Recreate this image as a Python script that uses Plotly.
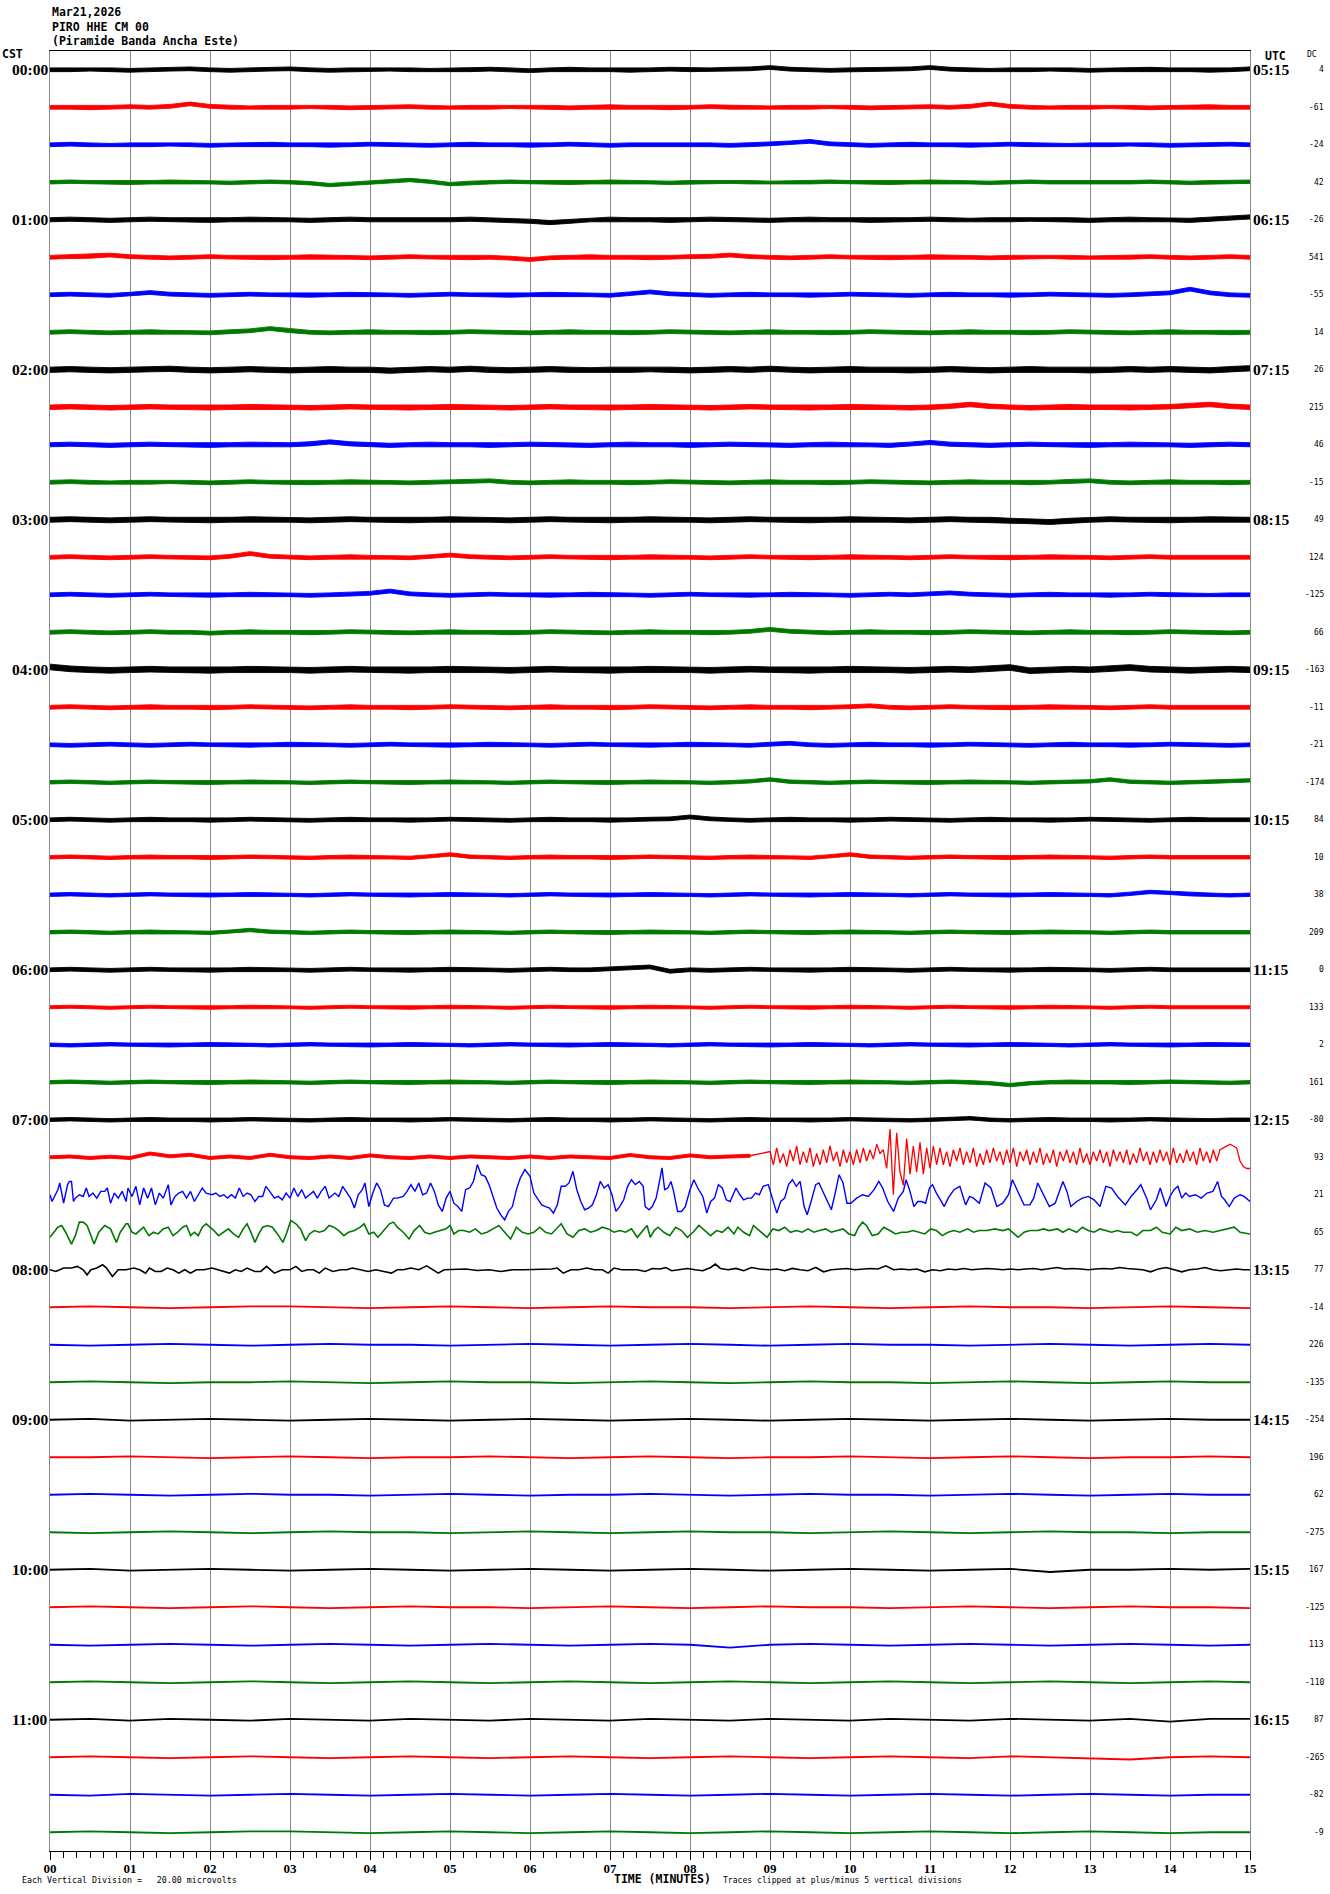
import numpy as np
import plotly.graph_objects as go

# ---------------- text / labels ----------------
HEADER = ["Mar21,2026", "PIRO HHE CM 00", "(Piramide Banda Ancha Este)"]
CST_LABELS = ["00:00", "01:00", "02:00", "03:00", "04:00", "05:00",
              "06:00", "07:00", "08:00", "09:00", "10:00", "11:00"]
UTC_LABELS = ["05:15", "06:15", "07:15", "08:15", "09:15", "10:15",
              "11:15", "12:15", "13:15", "14:15", "15:15", "16:15"]
DC_VALUES = [4, -61, -24, 42, -26, 541, -55, 14, 26, 215, 46, -15, 49, 124, -125, 66,
             -163, -11, -21, -174, 84, 10, 38, 209, 0, 133, 2, 161, -80, 93, 21, 65,
             77, -14, 226, -135, -254, 196, 62, -275, 167, -125, 113, -110, 87, -265, -82, -9]
MINUTE_TICKS = ["00", "01", "02", "03", "04", "05", "06", "07", "08", "09",
                "10", "11", "12", "13", "14", "15"]
UV_PER_DIV = 20.0
TRACE_COLORS = ["#000000", "#ff0000", "#0000ff", "#007800"]

# ---------------- trace values (microvolts) ----------------
# traces 00:00 .. 07:00 (index 0..28): running mid-level every 15 s ...
QUIET_TOP = [
    [0,0,0.3,0,-0.3,0,0.3,0.5,0,-0.3,0,0.3,0.5,0,-0.3,0,0,0.3,0,-0.3,0,0,0.3,0,-0.5,0,0.3,0,0,-0.3,0,0.3,0,0,0.3,0.5,1.2,0.3,0,-0.3,0,0,0.3,0.5,1.2,0.3,0,-0.3,0,0,0.3,0,-0.3,0,0,0.3,0,0,-0.3,0,0.5],
    [0,0,-0.3,0,0.3,0,0.5,1.8,0.5,0,-0.3,0,0,0.3,0,-0.3,0,0,0.3,0,-0.3,0,0,0.3,0,0,-0.3,0,0.3,0,0,-0.3,0,0.3,0,0,-0.3,0,0,0.3,0,-0.3,0,0,0.3,0,0.5,1.8,0.5,0,-0.3,0,0,0.3,0,-0.3,0,0,0.3,0,0],
    [0,0.3,0,-0.3,0,0,0.3,0,-0.3,0,0,0.3,0,0,-0.3,0,0.3,0,0,-0.3,0,0.3,0,0,-0.3,0,0.3,0,-0.3,0,0,0.3,0,0,-0.3,0,0.5,1,1.8,0.5,0,-0.3,0,0.3,0,0,-0.3,0,0.3,0,0,-0.3,0,0,0.3,0,-0.3,0,0,0.3,0],
    [0,0.3,0,0,-0.3,0,0.3,0,0,-0.3,0,0.3,0,-0.5,-1.5,-0.8,0,0.5,1.2,0.3,-1,-0.3,0,0.3,0,0,-0.3,0,0.3,0,0,-0.3,0,0,0.3,0,-0.3,0,0,0.3,0,0,-0.3,0,0.3,0,0,-0.3,0,0.3,0,0,-0.3,0,0,0.3,0,-0.3,0,0,0.3],
    [0,0.3,0,-0.3,0,0.3,0,0,-0.3,0,0.3,0,0,-0.3,0,0.3,0,0,-0.3,0,0,0.3,0,-0.3,-0.8,-1.5,-0.8,0,0.3,0,0,-0.3,0,0.3,0,0,-0.3,0,0.3,0,0,-0.3,0,0,0.3,0,-0.3,0,0,0.3,0,0,-0.3,0,0.3,0,0,-0.3,0.3,0.8,1.5],
    [0,0.3,0.5,1.2,0.3,0,-0.3,0,0.3,0,0,-0.3,0,0.3,0,0,-0.3,0,0.3,0,0,-0.3,0,-0.5,-1.2,-0.3,0,0.3,0,0,-0.3,0,0.3,0.5,1.2,0.3,0,-0.3,0,0.3,0,0,-0.3,0,0.3,0,0,-0.3,0,0,0.3,0,-0.3,0,0,0.3,0,-0.3,0,0.3,0],
    [0,0.3,0,-0.3,0.3,1.2,0.3,0,-0.3,0,0.3,0,0,-0.3,0,0.3,0,0,-0.3,0,0.3,0,0,-0.3,0,0.3,0,0,-0.3,0.5,1.5,0.5,0,-0.3,0,0.3,0,0,-0.3,0,0.3,0,0,-0.3,0,0.3,0,0,-0.3,0,0.3,0,0,-0.3,0,0.3,1,3,1,0,-0.3],
    [0,0.3,0,-0.3,0,0.3,0,0,-0.3,0.3,0.8,2,0.8,0,-0.3,0,0.3,0,0,-0.3,0,0.3,0,0,-0.3,0,0.3,0,0,-0.3,0,0.3,0,0,-0.3,0,0.3,0,0,-0.3,0,0.3,0,0,-0.3,0,0.3,0,0,-0.3,0,0.3,0,0,-0.3,0,0.3,0,0,-0.3,0],
    [0,0.3,0,-0.3,0,0.3,0.5,0,-0.3,0,0.3,0,-0.3,0,0.3,0,0,-0.5,0,0.3,0,0.5,0,-0.3,0,0.3,0,-0.3,0,0,0.3,0,-0.3,0,0.3,0,0.5,0,-0.3,0,0.3,0,0,-0.3,0,0.3,0,-0.3,0,0.3,0,0,-0.3,0,0.3,0,0.3,0,-0.3,0.3,0.8],
    [0,0.3,0,-0.3,0,0.3,0,0,-0.3,0,0.3,0,0,-0.3,0,0.3,0,0,-0.3,0,0.3,0,0,-0.3,0,0.3,0,0,-0.3,0,0.3,0,0,-0.3,0,0.3,0,0,-0.3,0,0.3,0,0,-0.3,0,0.5,1.5,0.5,0,-0.3,0,0.3,0,0,-0.3,0,0.3,0.8,1.5,0.5,0],
    [0,0.3,0,-0.3,0,0.3,0,0,-0.3,0,0.3,0,0,0.5,1.5,0.5,0,-0.3,0,0.3,0,0,-0.3,0,0.3,0,0,-0.3,0,0.3,0,0,-0.3,0,0.3,0,0,-0.3,0,0.3,0,0,-0.3,0.3,1.2,0.3,0,-0.3,0,0.3,0,0,-0.3,0,0.3,0,0,-0.3,0,0.3,0],
    [0,0.3,0,-0.3,0,0,0.3,0,-0.3,0,0.3,0,0,-0.3,0,0.3,0,0,-0.3,0,0.3,0.5,0.8,0,-0.3,0,0.3,0,0,-0.3,0,0.3,0,0,-0.3,0,0.3,0,0,-0.3,0,0.3,0,0,-0.3,0,0.3,0,0,-0.3,0,0.5,0.8,0,-0.3,0,0.3,0,0,-0.3,0],
    [0,0.3,0,-0.3,0,0.3,0,0,-0.3,0,0.3,0,0,-0.3,0,0.3,0,0,-0.3,0,0.3,0,0,-0.3,0,0.3,0,0,-0.3,0,0.3,0,0,-0.3,0,0.3,0,0,-0.3,0,0.3,0,0,-0.3,0,0.3,0,0,-0.5,-0.8,-1.2,-0.5,0,0.3,0,0,-0.3,0,0.3,0,0],
    [0,0.3,0,-0.3,0,0.3,0,0,-0.3,0.5,2,0.5,0,-0.3,0,0.3,0,0,-0.3,0.3,1.2,0.3,0,-0.3,0,0.3,0,0,-0.3,0,0.3,0,0,-0.3,0,0.3,0,0,-0.3,0,0.3,0,0,-0.3,0,0.3,0,0,-0.3,0,0.3,0,0,-0.3,0,0.3,0,0,-0.3,0,0],
    [0,0.3,0,-0.3,0,0.3,0,0,-0.3,0,0.3,0,0,-0.3,0,0.3,0.8,2,0.5,0,-0.3,0,0.3,0,0,-0.3,0,0.3,0,0,-0.3,0,0.3,0,0,-0.3,0,0.3,0,0,-0.3,0,0.3,0,0.3,1,0.3,0,-0.3,0,0.3,0,0,-0.3,0,0.3,0,0,-0.3,0,0],
    [0,0.3,0,-0.3,0,0.3,0,0,-0.5,0,0.3,0,0,-0.3,0,0.3,0,0,-0.3,0,0.3,0,0,-0.3,0,0.3,0,0,-0.3,0,0.3,0,0,-0.3,0,0.5,1.5,0.5,0,-0.3,0,0.3,0,0,-0.3,0,0.3,0,0,-0.3,0,0.3,0,0,-0.3,0,0.3,0,0,-0.3,0],
    [1.5,0.5,0,-0.3,0,0.3,0,0,-0.3,0,0.3,0,0,-0.3,0,0.3,0,0,-0.3,0,0.3,0,0,-0.3,0,0.3,0,0,-0.3,0,0.3,0,0,-0.3,0,0.3,0,0,-0.3,0,0.3,0,0,-0.3,0,0.3,0,0.5,1.2,-0.5,0,0.3,0,0.5,1.2,0.3,0,-0.3,0,0.3,0],
    [0,0.3,0,-0.3,0,0.3,0,0,-0.3,0,0.3,0,0,-0.3,0,0.3,0,0,-0.3,0,0.3,0,0,-0.3,0,0.3,0,0,-0.3,0,0.3,0,0,-0.3,0,0.3,0,0,-0.3,0,0.3,0.8,0,-0.3,0,0.3,0,0,-0.3,0,0.3,0,0,-0.3,0,0.3,0,0,-0.3,0,0],
    [0,-0.3,0,0.3,0,-0.3,0,0.3,0,0,-0.3,0,0.3,0,0,-0.3,0,0.3,0,0,-0.3,0,0.3,0,0,-0.3,0,0.3,0,0,-0.3,0,0.3,0,0,-0.3,0.3,0.8,0,-0.3,0,0.3,0,0,-0.3,0,0.3,0,0,-0.3,0,0.3,0,0,-0.3,0,0.3,0,0,-0.3,0],
    [0,0.3,0,-0.3,0,0.3,0,0,-0.3,0,0.3,0,0,-0.3,0,0.3,0,0,-0.3,0,0.3,0,0,-0.3,0,0.3,0,0,-0.3,0,0.3,0,0,-0.3,0,0.5,1.5,0.3,0,-0.3,0,0.3,0,0,-0.3,0,0.3,0,0,-0.3,0,0.3,0.5,1.5,0.3,0,-0.3,0,0.3,0.5,1],
    [0,0.3,0,-0.3,0,0.3,0,0,-0.3,0,0.3,0,0,-0.3,0,0.3,0,0,-0.3,0,0.3,0,0,-0.3,0,0.3,0,0,-0.3,0,0.3,0.5,1.5,0.5,0,-0.3,0,0.3,0,0,-0.3,0,0.3,0,0,-0.3,0,0.3,0,0,-0.3,0,0.3,0,0,-0.3,0,0.3,0,0,0],
    [0,0.3,0,-0.3,0,0.3,0,0,-0.3,0,0.3,0,0,-0.3,0,0.3,0,0,-0.3,0.5,1.5,0.3,0,-0.3,0,0.3,0,0,-0.3,0,0.3,0,0,-0.3,0,0.3,0,0,-0.3,0.5,1.5,0.3,0,-0.3,0,0.3,0,0,-0.3,0,0.3,0,0,-0.3,0,0.3,0,0,-0.3,0,0],
    [0,0.3,0,-0.3,0,0.3,0,0,-0.3,0,0.3,0,0,-0.3,0,0.3,0,0,-0.3,0,0.3,0,0,-0.3,0,0.3,0,0,-0.3,0,0.3,0,0,-0.3,0,0.3,0,0,-0.3,0,0.3,0,0,-0.3,0,0.3,0,0,-0.3,0,0.3,0,0,-0.3,0.5,1.5,1,0.3,0,-0.3,0],
    [0,0.3,0,-0.3,0,0.3,0,0,-0.3,0.3,1.2,0.3,0,-0.3,0,0.3,0,0,-0.3,0,0.3,0,0,-0.3,0,0.3,0,0,-0.3,0,0.3,0,0,-0.3,0,0.3,0,0,-0.3,0,0.3,0,0,-0.3,0,0.3,0,0,-0.3,0,0.3,0,0,-0.3,0,0.3,0,0,-0.3,0,0],
    [0,0.3,0,-0.3,0,0.3,0,0,-0.3,0,0.3,0,0,-0.3,0,0.3,0,0,-0.3,0,0.3,0,0,-0.3,0,0.3,0,0,0.5,1,1.5,-0.8,0,-0.3,0,0.3,0,0,-0.3,0,0.3,0,0,-0.3,0,0.3,0,0,-0.3,0,0.3,0,0,-0.3,0,0.3,0,0,-0.3,0,0],
    [0,0.3,0,-0.3,0,0.3,0,0,-0.3,0,0.3,0,0,-0.3,0,0.3,0,0,-0.3,0,0.3,0,0,-0.3,0,0.3,0,0,-0.3,0,0.3,0,0,-0.3,0,0.3,0,0,-0.3,0,0.3,0,0,-0.3,0,0.3,0,0,-0.3,0,0.3,0,0,-0.3,0,0.3,0,0,-0.3,0,0],
    [0,-0.3,0,0.3,0,0,-0.3,0,0.3,0,0,-0.3,0,0.3,0,0,-0.3,0,0.3,0,0,-0.3,0,0.3,0,0,-0.3,0,0.3,0,0,-0.3,0,0.3,0,0,-0.3,0,0.3,0,0,-0.3,0,0.3,0,0,-0.3,0,0.3,0,0,-0.3,0,0.3,0,0,-0.3,0,0.3,0,0],
    [0,0.3,0,-0.3,0,0.3,0,0,-0.3,0,0.3,0,0,-0.3,0,0.3,0,0,-0.3,0,0.3,0,0,-0.3,0,0.3,0,0,-0.3,0,0.3,0,0,-0.3,0,0.3,0,0,-0.3,0,0.3,0,0,-0.3,0,0.3,0,-0.5,-1.5,-0.5,0,0.3,0,0,-0.3,0,0.3,0,0,-0.3,0],
    [0,0.3,0,-0.3,0,0.3,0,0,-0.3,0,0.3,0,0,-0.3,0,0.3,0,0,-0.3,0,0.3,0,0,-0.3,0,0.3,0,0,-0.3,0,0.3,0,0,-0.3,0,0.3,0,0,-0.3,0,0.3,0,0,-0.3,0,0.3,0.8,0,-0.3,0,0.3,0,0,-0.3,0,0.3,0,0,-0.3,0,0],
]
# ... and the half-width of each trace's background-noise band (microvolts)
NOISE_HALF_WIDTH = [1.0, 1.0, 1.0, 0.9, 1.1, 1.0, 1.0, 1.0, 1.4, 1.2, 1.1, 1.0, 1.3, 1.0, 1.0,
                    1.0, 1.5, 1.0, 1.0, 0.9, 1.0, 0.9, 0.9, 0.9, 1.0, 0.8, 0.9, 0.9, 0.9]

# 07:15 red trace: quiet part (0-525 s, every 15 s) and active part (540-900 s, every 2.5 s)
RED_0715_QUIET = [0,0.4,-0.4,0.3,-0.4,2.0,0.5,1.3,-0.4,0.4,-0.4,1.3,0,-0.4,0.4,-0.4,1.0,0,
                  -0.4,0.4,-0.4,0.4,0,-0.4,0.4,-0.4,0.4,0,-0.4,1.2,0,-0.4,1.0,0,0.4,0.8]
RED_0715_NOISE = 0.8
RED_0715_ACTIVE = [3,-4,5,-3,2,-5,4,-2,6,-4,3,-3,5,-5,2,-4,4,-3,6,-2,3,-5,4,-3,
                   3,-4,4,-3,5,-2,4,-1,7,2,
                   4,-6,15,-20,13,-8,-15,10,-9,6,
                   -8,8,-9,5,-6,6,-4,5,
                   -4,3,-5,4,-2,5,-4,3,-3,5,-5,2,-4,4,-3,5,-2,3,-4,4,
                   -3,5,-5,3,-2,4,-4,3,-3,5,-4,2,-3,4,-5,3,-2,4,-3,3,
                   -4,5,-3,2,-4,3,-2,4,-3,3,-5,4,-2,3,-3,4,-4,2,-3,5,
                   -2,3,-4,3,-3,4,-2,3,-4,5,-3,2,-3,4,-2,3,-4,5,-2,3,
                   -3,4,-2,4,5,6,7,6,5,-2,-5,-6,-6]

# 07:30 blue trace: (seconds, microvolts)
BLUE_0730 = [(0,0),(1.5,-3.6),(5.9,2.7),(7.3,6.3),(8.8,0.9),(10.2,-4.5),(13.2,5.4),(14.6,7.1),(16.1,7.1),
    (17.6,-3.6),(19.0,-1.8),(22.0,0),(24.9,-0.9),(27.2,3.6),(29.3,-0.9),(32.2,0.9),(35.1,-1.8),(38.1,1.8),
    (41.0,1.8),(43.0,3.6),(45.4,-4.5),(48.3,0.9),(51.2,-1.8),(54.1,1.8),(57.1,-3.6),(58.5,3.6),(61.5,-0.9),
    (64.4,4.5),(67.3,-5.4),(70.2,3.6),(73.2,-1.8),(76.1,3.6),(79.0,-5.4),(82.0,0.9),(84.9,-1.8),(88.7,5.4),
    (90.7,-5.4),(93.7,-0.9),(96.6,0.9),(99.5,1.8),(102.4,-1.8),(105.4,1.8),(108.3,-3.6),(111.2,0),(114.2,3.6),
    (117.1,0.9),(121.5,0),(124.4,0.9),(127.3,-0.9),(130.3,0),(133.2,-1.8),(136.1,0),(139.0,-1.8),(142.0,3.6),
    (144.9,-0.9),(147.8,0.9),(150.7,0),(153.7,-3.6),(156.6,-0.9),(159.5,-0.9),(161.9,4.5),(164.8,1.8),
    (168.3,-1.8),(171.2,-0.9),(174.2,-2.7),(177.1,0.9),(180.0,-1.8),(182.9,3.6),(185.9,-0.9),(188.8,2.7),
    (191.7,-1.8),(194.6,0),(197.6,1.8),(200.5,-1.8),(203.4,1.8),(206.4,4.5),(209.3,-1.8),(213.7,0.9),
    (216.6,-0.9),(219.5,4.5),(222.5,0.9),(225.4,-1.8),(228.3,-7.1),(231.2,0),(234.2,2.7),(236.2,6.3),
    (239.1,-6.3),(242.1,0.9),(245.0,6.3),(247.9,2.7),(250.8,-5.4),(253.8,-6.3),(257.6,-1.8),(260.5,-1.8),
    (264.9,-0.9),(267.8,1.8),(270.7,5.4),(273.7,1.8),(276.6,6.3),(279.5,0),(282.5,0.9),(285.4,6.3),
    (288.3,1.8),(291.2,-5.4),(294.2,-8.9),(297.1,-1.8),(300.0,1.8),(302.9,-4.5),(305.9,-6.3),(308.8,-8.9),
    (311.7,2.7),(314.7,3.6),(317.6,7.1),(320.5,16.1),(323.4,10.7),(326.4,9.8),(329.3,5.4),(332.2,-0.9),
    (335.1,-7.1),(338.1,-10.7),(341.0,-13.4),(343.9,-8.9),(346.8,-6.3),(349.8,2.7),(352.7,8.9),(356.2,13.4),
    (360.0,9.8),(362.9,0.9),(365.9,-2.7),(368.8,-5.4),(371.7,-6.3),(374.7,-7.1),(377.6,-9.8),(380.5,-5.4),
    (383.4,4.5),(386.4,4.5),(389.3,6.3),(392.2,12.5),(395.1,2.7),(398.1,-3.6),(401.0,-8.0),(403.9,-7.1),
    (406.8,-5.4),(409.8,0),(412.7,7.1),(415.6,3.6),(418.6,5.4),(421.5,0),(424.4,-8.9),(427.3,-6.3),
    (430.3,-2.7),(433.2,4.5),(436.1,8.0),(439.0,5.4),(442.0,7.1),(444.9,4.5),(446.4,-6.3),(449.3,-8.0),
    (451.7,-6.3),(454.6,-1.8),(456.9,6.3),(459.0,14.3),(461.0,2.7),(463.4,3.6),(465.7,7.1),(467.7,1.8),
    (470.7,-8.9),(473.6,-8.9),(476.5,-6.3),(480.0,2.7),(482.9,8.0),(485.8,3.6),(489.6,-0.9),(492.6,-9.8),
    (495.5,-3.6),(498.4,-1.8),(501.3,5.4),(504.2,3.6),(507.2,-2.7),(510.1,-3.6),(514.5,3.6),(517.4,0),
    (520.3,-2.7),(523.2,-1.8),(526.1,-1.8),(529.1,0.9),(532.0,0),(534.9,4.5),(538.7,5.4),(542.2,-3.6),
    (545.1,-9.8),(548.0,-3.6),(551.0,-1.8),(553.9,5.4),(556.8,8.0),(559.7,4.5),(562.6,7.1),(565.6,-6.3),
    (567.9,-10.7),(570.8,-3.6),(574.3,5.4),(576.7,6.3),(580.2,0.9),(583.1,-3.6),(586.0,-8.0),(588.9,0.9),
    (591.8,10.7),(594.8,6.3),(597.7,-4.5),(600.6,-4.5),(605.0,-1.8),(609.4,0),(613.7,-0.9),(618.1,2.7),
    (621.6,7.1),(624.5,3.6),(628.3,-3.6),(632.7,-8.9),(636.2,-1.8),(640.0,1.8),(642.1,8.0),(645.0,1.8),
    (647.9,-6.3),(650.8,-3.6),(653.7,-3.6),(656.7,-4.5),(659.6,3.6),(661.9,5.4),(664.8,0.9),(667.8,-2.7),
    (670.7,-6.3),(673.6,-1.8),(678.0,2.7),(682.4,4.5),(686.7,-5.4),(689.7,-0.9),(692.6,-1.8),(697.0,-4.5),
    (701.3,6.3),(705.7,3.6),(710.1,-6.3),(714.5,-4.5),(718.9,0),(721.8,8.0),(724.7,3.6),(727.6,-0.9),
    (730.5,-5.4),(734.9,-5.4),(737.8,-1.8),(740.8,6.3),(745.1,0),(749.5,-6.3),(753.9,-4.5),(756.8,0.9),
    (759.7,7.1),(762.7,1.8),(765.6,-6.3),(770.0,-3.6),(774.3,-1.8),(778.7,-0.9),(783.1,-2.7),(787.5,-6.3),
    (791.9,4.5),(796.2,3.6),(800.6,-0.9),(806.5,-5.4),(810.8,-0.9),(815.2,2.7),(818.1,5.4),(822.5,-1.8),
    (825.4,-8.0),(829.8,-2.7),(832.7,3.6),(837.1,-6.3),(840.0,-0.9),(843.0,2.7),(845.9,4.5),(848.8,-1.8),
    (851.7,0.9),(854.6,-0.9),(859.0,0),(863.4,-1.8),(867.8,0.9),(872.2,1.8),(875.7,7.1),(878.6,-0.9),
    (881.0,-2.7),(884.4,-6.3),(888.2,-1.8),(892.6,0),(895.5,-0.9),(900.0,-3.6)]

# 07:45 green trace: (seconds, microvolts)
GREEN_0745 = [(0,-2.7),(5.9,2.7),(8.8,3.6),(11.7,0),(16.1,-6.3),(19.0,-1.8),(22.0,5.4),(24.9,5.4),(27.8,3.6),
    (30.7,-1.8),(33.1,-6.3),(36.6,0),(41.0,3.6),(45.4,1.8),(49.8,-5.4),(52.7,0),(57.1,4.5),(58.5,4.5),
    (61.5,0),(64.4,-0.9),(67.3,0.9),(70.2,2.7),(74.1,-1.8),(77.6,0),(81.1,-0.9),(84.9,1.8),(88.7,2.7),
    (92.2,-1.8),(95.7,0),(99.5,2.7),(102.4,3.6),(105.4,-1.8),(108.3,0),(111.2,-1.8),(114.2,2.7),(117.1,4.5),
    (120.0,2.7),(122.9,0.9),(126.4,-1.8),(130.3,0),(133.8,1.8),(137.6,-0.9),(141.4,-2.7),(144.9,1.8),
    (147.8,4.5),(150.7,0),(153.7,-5.4),(156.6,-0.9),(159.5,2.7),(163.0,3.6),(166.8,2.7),(170.6,-0.9),
    (174.7,-5.4),(177.7,0),(180.6,6.3),(184.4,4.5),(187.9,1.8),(191.7,-4.5),(194.6,-0.9),(198.2,0.9),
    (202.0,0),(205.8,0.9),(209.3,3.6),(212.8,2.7),(216.6,0.9),(220.4,-1.8),(223.9,0),(228.3,0.9),
    (232.7,2.7),(235.6,4.5),(239.1,-0.9),(242.9,0),(245.9,-2.7),(250.3,0.9),(254.6,4.5),(257.6,5.4),
    (260.5,2.7),(264.9,0),(269.3,-3.6),(273.1,0.9),(277.2,3.6),(281.0,0),(284.8,-0.9),(288.3,0),
    (292.7,0.9),(297.1,1.8),(300.0,3.6),(302.9,-0.9),(306.5,0.9),(310.3,0.9),(314.7,0),(319.0,1.8),
    (323.4,-0.9),(327.8,0),(332.2,1.8),(336.6,3.6),(341.0,0),(345.4,-3.6),(349.8,2.7),(354.2,0),
    (358.6,-0.9),(362.9,0),(367.3,2.7),(371.7,0),(376.1,-0.9),(379.6,1.8),(383.4,4.5),(387.8,-0.9),
    (392.2,-2.7),(396.6,0.9),(401.0,1.8),(405.4,0),(409.8,0.9),(414.2,2.7),(418.6,1.8),(423.0,0),
    (427.3,0.9),(431.7,0),(436.1,1.8),(440.5,-2.7),(443.4,0),(447.8,3.6),(450.2,-2.7),(453.1,0.9),
    (456.1,2.7),(460.4,0),(464.8,-1.8),(469.2,2.7),(473.6,0.9),(478.0,-2.7),(482.3,0),(486.7,3.6),
    (491.1,0.9),(495.5,-1.8),(499.9,0.9),(504.2,0),(508.6,2.7),(513.0,-0.9),(515.9,2.7),(520.3,0),
    (524.7,-1.8),(527.6,3.6),(532.0,0.9),(537.8,-2.7),(542.2,1.8),(546.6,0.9),(551.0,2.7),(555.3,0),
    (559.7,0.9),(564.1,0),(568.5,1.8),(572.9,0),(577.2,0.9),(581.6,1.8),(586.0,0),(590.4,0.9),(594.8,1.8),
    (599.1,-0.9),(603.5,-1.8),(606.4,2.7),(609.4,5.4),(612.3,3.6),(616.7,-1.8),(621.0,-0.9),(625.4,2.7),
    (629.8,0.9),(634.2,-0.9),(638.6,0),(642.9,0),(647.3,0.9),(651.7,0),(656.1,-0.9),(660.5,1.8),
    (664.8,0.9),(669.2,-1.8),(673.6,0),(678.0,0.9),(682.4,0),(688.2,1.8),(692.6,0),(697.0,0.9),(702.8,0.9),
    (708.6,1.8),(714.5,0.9),(718.9,1.8),(721.8,0),(726.2,-2.7),(730.5,0),(734.9,0.9),(740.8,0.9),
    (745.1,1.8),(749.5,0.9),(755.4,1.8),(759.7,0),(764.1,1.8),(770.0,0),(774.3,2.7),(778.7,0.9),(783.1,0),
    (787.5,1.8),(791.9,0.9),(796.2,0),(800.6,0.9),(805.0,0),(810.8,0),(815.2,-1.8),(819.6,0.9),(825.4,0.9),
    (829.8,2.7),(834.2,0),(840.0,-0.9),(844.4,2.7),(848.8,0.9),(854.6,1.8),(860.5,0),(866.3,0.9),
    (872.2,0),(878.0,0.9),(883.8,1.8),(888.2,2.7),(892.6,0),(900.0,-0.9)]

# 08:00 black trace: (seconds, microvolts)
BLACK_0800 = [(0,0),(4.4,-0.9),(10.2,0.9),(16.1,0.9),(20.5,1.8),(24.9,0),(27.8,-2.7),(30.7,0),(35.1,0.9),
    (39.5,2.7),(42.4,0.9),(46.8,-3.6),(51.2,0),(57.1,0),(62.9,0.9),(67.3,0),(71.7,-1.8),(74.6,0.9),
    (79.0,-0.9),(83.4,-0.9),(87.8,0.9),(92.2,0),(96.6,-1.8),(101.0,0),(105.4,-1.8),(109.8,0),(115.6,0),
    (121.5,0.9),(125.9,0),(130.3,-0.9),(134.6,-1.8),(139.0,0),(143.4,-0.9),(147.8,0.9),(153.7,-0.9),
    (158.1,-0.9),(162.4,1.8),(168.3,-1.8),(174.2,0),(180.0,0),(184.4,1.8),(188.8,-0.9),(193.2,0),
    (197.6,0),(202.0,-1.8),(206.4,0.9),(212.2,-0.9),(218.1,0),(222.5,0),(226.8,0.9),(232.7,0),
    (238.6,-0.9),(244.4,0),(250.3,-0.9),(256.1,-1.8),(260.5,0),(264.9,0),(270.7,0.9),(276.6,0),
    (282.5,2.1),(286.9,0),(291.2,-1.8),(295.6,0),(302.9,0),(311.7,0.4),(320.5,-0.4),(329.3,0),
    (338.1,-0.9),(346.8,0),(355.6,0),(361.5,0),(368.8,0),(376.1,0.4),(380.5,0.9),(384.9,-1.8),
    (390.8,0),(396.6,0),(402.5,0.9),(408.3,0),(414.2,0),(418.6,-1.8),(423.0,0.9),(428.8,0),(434.7,0),
    (440.5,0),(446.4,-0.9),(451.7,0.7),(457.5,0.4),(461.9,1.2),(466.3,-0.5),(472.1,0),(478.0,0.7),
    (483.8,0),(489.6,-0.5),(495.5,1.2),(499.0,3.0),(502.8,0.7),(508.6,0),(514.5,0.7),(520.3,-0.5),
    (526.1,1.2),(532.0,0.4),(539.3,0),(545.1,0.4),(551.0,-0.5),(556.8,0.7),(562.6,0),(568.5,-0.5),
    (574.3,1.2),(580.2,-1.1),(586.0,0),(591.8,0.4),(597.7,0.7),(603.5,0),(609.4,0.4),(615.2,0.7),
    (621.0,0.4),(626.9,2.1),(632.7,0),(638.6,0.4),(644.4,0),(650.2,0.4),(656.1,-1.1),(661.9,0),
    (667.8,-0.5),(673.6,0.4),(679.4,0),(685.3,0.7),(691.1,0),(697.0,0.4),(702.8,0.7),(708.6,0.4),
    (714.5,0),(720.3,0.4),(726.2,0),(732.0,0.4),(737.8,0.7),(743.7,0),(749.5,0.4),(755.4,1.2),
    (761.2,0.4),(767.0,0.7),(772.9,0.4),(778.7,0),(784.6,0.4),(790.4,0.7),(796.2,0.4),(802.1,1.2),
    (807.9,0.7),(813.8,0.4),(819.6,0),(825.4,-1.1),(831.3,0.4),(837.1,1.2),(843.0,0),(848.8,-1.1),
    (854.6,0),(860.5,0.4),(866.3,1.2),(872.2,0),(878.0,-0.5),(883.8,0),(889.7,0.4),(895.5,0),(900.0,0)]

# traces 08:15 .. 11:45 (index 33..47), one value every 30 s
QUIET_BOTTOM = [
    [0,0.5,0,-0.5,0,0.5,0.5,0,-0.5,0,0.5,0,-0.5,0,0.5,0,0,-0.5,0,0.5,0,-0.5,0,0.5,0,0,-0.5,0,0.5,0,-0.5],
    [0,-0.5,0,0.5,0,-0.5,0,0.5,0,0,-0.5,0,0.5,0,-0.5,0,0.5,0,-0.5,0,0.5,0,0,-0.5,0,0.5,0,-0.5,0,0.5,0],
    [0,0.5,0,-0.5,0,0,0.5,0,-0.5,0,0.5,0,0,-0.5,0,0.5,0,-0.5,0,0.5,0,0,-0.5,0,0.5,0,-0.5,0,0.5,0,0],
    [0,0.5,-0.5,0,0.5,0,-0.5,0,0.5,0,-0.5,0,0.5,0,-0.5,0,0.5,0,-0.5,0,0.5,0,-0.5,0,0.5,0,-0.5,0,0.5,0,0],
    [0,0,0.5,0,-0.5,0,0.5,0,-0.5,0,0,0.5,0,-0.5,0,0.5,0,-0.5,0,0,0.5,0,-0.5,0,0.5,0,-0.5,0,0,0.5,0],
    [0,0.5,0,-0.5,0,0.5,0,0,-0.5,0,0.5,0,-0.5,0,0,0.5,0,-0.5,0,0.5,0,0,-0.5,0,0.5,0,-0.5,0,0.5,0,0],
    [0,-0.5,0,0.5,0,-0.5,0,0.5,0,0,-0.5,0,0.5,0,-0.5,0,0.5,0,0,-0.5,0,0.5,0,-0.5,0,0.5,0,0,-0.5,0,0],
    [0,0.5,-0.5,0,0.5,0,-0.5,0,0.5,0,-0.5,0,0.5,0,-0.5,0,0.5,0,-0.5,0,0.5,0,-0.5,0,0.5,-1.2,0,0,0.5,0,0.5],
    [0,0.5,0,-0.5,0,0.5,0,-0.5,0,0.5,0,0,-0.5,0,0.5,0,-0.5,0,0.5,0,0,-0.5,0,0.5,0,-0.5,0,0.5,0,0,-0.5],
    [0,-0.5,0,0.5,0,-0.5,0,0.5,0,-0.5,0,0.5,0,-0.5,0,0.5,0,-1.5,0,0.5,0,-0.5,0,0.5,0,-0.5,0,0.5,0,-0.5,0],
    [0,0.5,0,-0.5,0,0.5,0,-0.5,0,0.5,0,-0.5,0,0.5,0,-0.5,0,0.5,0,-0.5,0,0.5,0,-0.5,0,0.5,0,-0.5,0,0.5,0],
    [0,0.5,-0.5,0.5,0,-0.5,0.5,0,-0.5,0.5,0,-0.5,0.5,0,-0.5,0.5,0,-0.5,0.5,0,-0.5,0.5,0,-0.5,0.5,0,-0.5,0.5,-1,0.5,0.5],
    [0,0.5,0,-0.5,0,0.5,0,-0.5,0,0.5,0,-0.5,0,0.5,0,-0.5,0,0.5,0,-0.5,0,0.5,0,-0.5,0.5,0,-0.5,-1.2,0,0.5,0],
    [0,-0.5,0.5,0,-0.5,0,0.5,0,-0.5,0,0.5,0,-0.5,0,0.5,0,-0.5,0,0.5,0,-0.5,0,0.5,0,-0.5,0,0.5,0,-0.5,0,0],
    [0,0.5,0,-0.5,0,0.5,0.5,0,-0.5,0,0.5,0,-0.5,0,0.5,0,-0.5,0,0.5,0,-0.5,0,0.5,0,-0.5,0,0.5,0,-0.5,0,0],
]

N_TRACES = 48

fig = go.Figure()


def to_y(i, v_uv):
    return i - np.asarray(v_uv, dtype=float) / UV_PER_DIV


def add_line(i, t_min, v_uv, width):
    fig.add_trace(go.Scatter(x=np.asarray(t_min, dtype=float), y=to_y(i, v_uv), mode="lines",
                             line=dict(color=TRACE_COLORS[i % 4], width=width),
                             hoverinfo="skip", showlegend=False))


def add_band(i, t_min, mid_uv, half_uv):
    t = np.asarray(t_min, dtype=float)
    mid = np.asarray(mid_uv, dtype=float)
    upper = to_y(i, mid + half_uv)
    lower = to_y(i, mid - half_uv)
    col = TRACE_COLORS[i % 4]
    fig.add_trace(go.Scatter(x=np.concatenate([t, t[::-1]]),
                             y=np.concatenate([upper, lower[::-1]]),
                             mode="lines", fill="toself", fillcolor=col,
                             line=dict(color=col, width=0.9),
                             hoverinfo="skip", showlegend=False))


for i in range(N_TRACES):
    if i <= 28:
        v = QUIET_TOP[i]
        add_band(i, np.linspace(0, 15, len(v)), v, NOISE_HALF_WIDTH[i])
    elif i == 29:
        tq = np.linspace(0, 525 / 60, len(RED_0715_QUIET))
        ta = np.linspace(9, 15, len(RED_0715_ACTIVE))
        add_band(i, tq, RED_0715_QUIET, RED_0715_NOISE)
        add_line(i, np.concatenate([tq, ta]), list(RED_0715_QUIET) + list(RED_0715_ACTIVE), 1.3)
    elif i in (30, 31, 32):
        pairs = {30: BLUE_0730, 31: GREEN_0745, 32: BLACK_0800}[i]
        t = [p[0] / 60 for p in pairs]
        v = [p[1] for p in pairs]
        add_line(i, t, v, 1.6 if i != 30 else 1.4)
    else:
        v = QUIET_BOTTOM[i - 33]
        add_line(i, np.linspace(0, 15, len(v)), v, 1.8)

# ---------------- annotations ----------------
ann = []
MONO = "DejaVu Sans Mono"
SERIF = "Liberation Serif"


def paper_y(px):
    return (1851 - px) / 1800.0


def paper_x(px):
    return (px - 50) / 1200.0


for k, line in enumerate(HEADER):
    ann.append(dict(text=line, xref="paper", yref="paper", x=0, y=paper_y([12, 26.5, 41][k]),
                    xanchor="left", yanchor="middle", showarrow=False,
                    font=dict(family=MONO, size=11.5, color="black", weight="bold")))

ann.append(dict(text="CST", xref="paper", yref="paper", x=paper_x(0), y=paper_y(54),
                xanchor="left", yanchor="middle", showarrow=False,
                font=dict(family=MONO, size=11.5, color="black", weight="bold")))
ann.append(dict(text="UTC", xref="paper", yref="paper", x=paper_x(1275), y=paper_y(56),
                xanchor="center", yanchor="middle", showarrow=False,
                font=dict(family=MONO, size=11.5, color="black", weight="bold")))
ann.append(dict(text="DC", xref="paper", yref="paper", x=paper_x(1312), y=paper_y(54),
                xanchor="center", yanchor="middle", showarrow=False,
                font=dict(family=MONO, size=8, color="black")))

for h in range(12):
    ann.append(dict(text=CST_LABELS[h], xref="x", yref="y", x=0, y=4 * h, xanchor="right",
                    yanchor="middle", xshift=0, showarrow=False,
                    font=dict(family=SERIF, size=15.5, color="black", weight="bold")))
    ann.append(dict(text=UTC_LABELS[h], xref="x", yref="y", x=15, y=4 * h, xanchor="left",
                    yanchor="middle", xshift=1, showarrow=False,
                    font=dict(family=SERIF, size=15.5, color="black", weight="bold")))

for i in range(N_TRACES):
    ann.append(dict(text=str(DC_VALUES[i]), xref="x", yref="y", x=15, y=i, xanchor="right",
                    yanchor="middle", xshift=76, showarrow=False,
                    font=dict(family=MONO, size=8, color="black")))

NB = "\u00a0"
ann.append(dict(text="Each Vertical Division =" + NB * 3 + "20.00 microvolts", xref="paper",
                yref="paper", x=paper_x(20), y=paper_y(1880), xanchor="left", yanchor="middle",
                showarrow=False, font=dict(family=MONO, size=8.3, color="black")))
ann.append(dict(text="TIME (MINUTES)", xref="paper", yref="paper", x=paper_x(612),
                y=paper_y(1879), xanchor="left", yanchor="middle", showarrow=False,
                font=dict(family=MONO, size=11.5, color="black", weight="bold")))
ann.append(dict(text="Traces clipped at plus/minus 5 vertical divisions", xref="paper",
                yref="paper", x=paper_x(721), y=paper_y(1880), xanchor="left", yanchor="middle",
                showarrow=False, font=dict(family=MONO, size=8.1, color="black")))

minor_vals = [k / 6 for k in range(91) if k % 6]

fig.update_layout(
    width=1330, height=1894,
    margin=dict(l=50, r=80, t=51, b=43),
    paper_bgcolor="white", plot_bgcolor="white",
    annotations=ann,
    xaxis=dict(range=[0, 15], tickvals=list(range(16)), ticktext=MINUTE_TICKS,
               ticks="outside", ticklen=8, tickwidth=1, tickcolor="black",
               ticklabelstandoff=-3,
               tickfont=dict(family=SERIF, size=13, color="black", weight="bold"),
               showgrid=True, gridcolor="#888888", gridwidth=1,
               showline=True, linecolor="black", linewidth=1, mirror=True,
               zeroline=False, fixedrange=True,
               minor=dict(tickvals=minor_vals, ticks="outside", ticklen=6, tickcolor="black",
                          tickwidth=1, showgrid=False)),
    yaxis=dict(range=[N_TRACES - 0.5, -0.5], showticklabels=False, ticks="",
               showgrid=False, zeroline=False, showline=True, linecolor="#888888",
               linewidth=1, mirror=True, fixedrange=True),
)

fig.write_html("out.html", config={"displayModeBar": False},
               post_script="document.body.style.margin='0';document.body.style.padding='0';")
